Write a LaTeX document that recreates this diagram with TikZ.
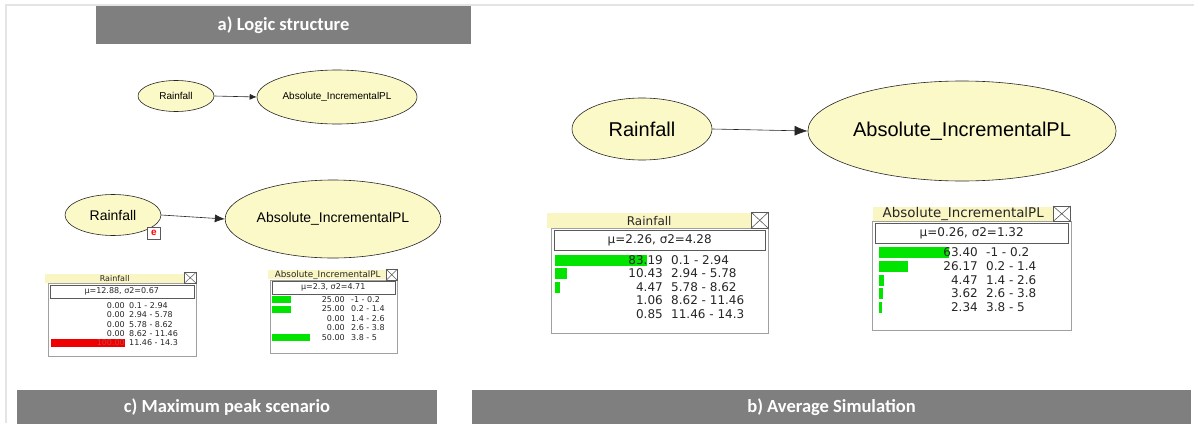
\documentclass[tikz,border=0pt]{standalone}
\usepackage{fontspec}
\usetikzlibrary{shapes.geometric,arrows.meta}
\newfontfamily\capfont{Carlito}
\newfontfamily\arialfont{Liberation Sans}
\newfontfamily\tabfont{DejaVu Sans}
\definecolor{bargray}{RGB}{127,127,127}
\definecolor{framegray}{RGB}{228,228,228}
\definecolor{nodeyellow}{RGB}{252,249,200}
\definecolor{headyellow}{RGB}{250,246,196}
\definecolor{bargreen}{RGB}{0,228,0}
\definecolor{barred}{RGB}{238,0,0}
\definecolor{tabline}{RGB}{160,160,160}
\definecolor{tabdark}{RGB}{90,90,90}
\tikzset{
  titlebar/.style={fill=bargray, draw=none, inner sep=0pt, text=white,
    font=\capfont\bfseries\fontsize{18.5}{20}\selectfont},
  bn/.style={ellipse, draw=black!85, fill=nodeyellow, line width=0.6pt, inner sep=0pt},
  link/.style={line width=0.6pt, black!85},
  hdr/.style={fill=headyellow, draw=none, inner sep=0pt},
  xbox/.style={draw=tabdark, fill=white, line width=0.5pt, inner sep=0pt},
  tbody/.style={draw=tabline, fill=white, line width=1.4pt, inner sep=0pt},
  mubox/.style={draw=tabdark, fill=white, line width=0.5pt, inner sep=0pt},
  bigt/.style={font=\tabfont\fontsize{12}{13}\selectfont, inner sep=0pt, text=black!85},
  smallt/.style={font=\tabfont\fontsize{8}{9}\selectfont, inner sep=0pt, text=black!85},
}
\begin{document}
\begin{tikzpicture}[x=1pt,y=-1pt]
\useasboundingbox (0,0) rectangle (1194,423);
% frame
\draw[framegray, line width=1.6pt] (6,423) -- (6,5) -- (1194,5);
% title bars
\node[titlebar, minimum width=375, minimum height=38] (ta) at (283.5,25) {a) Logic structure};
\node[titlebar, minimum width=420, minimum height=34] (tc) at (227,407) {c) Maximum peak scenario};
\node[titlebar, minimum width=719, minimum height=34] (tb) at (831.5,407) {b) Average Simulation};

% ---------- panel a ----------
\node[bn, minimum width=76, minimum height=31, font=\arialfont\fontsize{10}{12}\selectfont] (ra) at (176,96) {Rainfall};
\node[bn, minimum width=160, minimum height=54, font=\arialfont\fontsize{10}{12}\selectfont] (aa) at (337,97) {Absolute\_IncrementalPL};
\draw[link, -{Latex[length=7pt,width=6pt]}] (ra.east) -- (aa.west);

% ---------- panel c ----------
\node[bn, minimum width=96, minimum height=41, font=\arialfont\fontsize{14}{16}\selectfont] (rc) at (113,215) {Rainfall};
\node[bn, minimum width=203, minimum height=78, font=\arialfont\fontsize{14}{16}\selectfont] (ac) at (333,219) {Absolute\_IncrementalPL};
\draw[link, -{Latex[length=10pt,width=8pt]}] (rc.east) -- (ac.west);
\node[draw=tabdark, fill=white, line width=0.6pt, minimum width=13, minimum height=12, inner sep=0pt,
  text=red, font=\arialfont\bfseries\fontsize{10}{10}\selectfont] (ev) at (154,233) {e};

% small Rainfall table
\node[hdr, minimum width=139, minimum height=9, anchor=north west, smallt] (rch) at (45,273.5) {Rainfall};
\node[tbody, minimum width=148, minimum height=73, anchor=north west] (rcb) at (47.5,283) {};
\node[xbox, minimum width=12, minimum height=11, anchor=north west] (rcx) at (184,272) {};
\draw[tabdark, line width=0.5pt] (rcx.north west) -- (rcx.south east) (rcx.north east) -- (rcx.south west);
\node[mubox, minimum width=144, minimum height=13, anchor=north west, smallt] (rcm) at (49.5,284.5) {μ=12.88, σ2=0.67};
\draw[tabdark, line width=1pt] (rcm.south west) -- (rcm.south east);
\fill[barred] (51,339) rectangle (125,347);
\foreach \i/\n/\r/\y in {1/0.00/0.1 - 2.94/305.5, 2/0.00/2.94 - 5.78/314.8, 3/0.00/5.78 - 8.62/324.1, 4/0.00/8.62 - 11.46/333.4}{
  \node[smallt, anchor=east] (rcn\i) at (125,\y) {\n};
  \node[smallt, anchor=west] (rcr\i) at (129,\y) {\r};
}
\node[smallt, anchor=east, text={rgb,255:red,205;green,60;blue,60}] (rcn5) at (125,342.7) {100.00};
\node[smallt, anchor=west] (rcr5) at (129,342.7) {11.46 - 14.3};

% small Absolute table
\node[hdr, minimum width=119, minimum height=9, anchor=north west, smallt, font=\tabfont\fontsize{8.8}{9}\selectfont] (ach) at (268,270) {Absolute\_IncrementalPL};
\node[tbody, minimum width=127, minimum height=73, anchor=north west] (acb) at (269.5,279.5) {};
\node[xbox, minimum width=11, minimum height=11, anchor=north west] (acx) at (386,269) {};
\draw[tabdark, line width=0.5pt] (acx.north west) -- (acx.south east) (acx.north east) -- (acx.south west);
\node[mubox, minimum width=123, minimum height=13, anchor=north west, smallt] (acm) at (271.5,281) {μ=2.3, σ2=4.71};
\draw[tabdark, line width=1pt] (acm.south west) -- (acm.south east);
\fill[bargreen] (272,296) rectangle ++(19,7);
\fill[bargreen] (272,305.5) rectangle ++(19,7);
\fill[bargreen] (272,334) rectangle ++(38,7);
\foreach \i/\n/\r/\y in {1/25.00/-1 - 0.2/299.5, 2/25.00/0.2 - 1.4/309, 3/0.00/1.4 - 2.6/318.5, 4/0.00/2.6 - 3.8/328, 5/50.00/3.8 - 5/337.5}{
  \node[smallt, anchor=east] (acn\i) at (345,\y) {\n};
  \node[smallt, anchor=west] (acr\i) at (351,\y) {\r};
}

% ---------- panel b ----------
\node[bn, minimum width=140, minimum height=62, font=\arialfont\fontsize{20}{22}\selectfont] (rb) at (642,129) {Rainfall};
\node[bn, minimum width=284, minimum height=100, font=\arialfont\fontsize{20}{22}\selectfont] (ab) at (962,131) {Absolute\_IncrementalPL};
\draw[link, -{Latex[length=13pt,width=10pt]}] (rb.east) -- (ab.west);

% big Rainfall table
\node[hdr, minimum width=204, minimum height=15, anchor=north west, bigt] (rbh) at (547,213) {Rainfall};
\node[tbody, minimum width=217, minimum height=105, anchor=north west] (rbb) at (551,228) {};
\node[xbox, minimum width=17, minimum height=16, anchor=north west] (rbx) at (751,212) {};
\draw[tabdark, line width=0.6pt] (rbx.north west) -- (rbx.south east) (rbx.north east) -- (rbx.south west);
\node[mubox, minimum width=211, minimum height=20, anchor=north west, bigt] (rbm) at (554,230) {μ=2.26, σ2=4.28};
\draw[tabdark, line width=1.2pt] (rbm.south west) -- (rbm.south east);
\fill[bargreen] (555,254.5) rectangle ++(91.5,11);
\fill[bargreen] (555,267.5) rectangle ++(11.5,11);
\fill[bargreen] (555,281.5) rectangle ++(5,11);
\foreach \i/\n/\r/\y in {1/83.19/0.1 - 2.94/260, 2/10.43/2.94 - 5.78/273, 3/4.47/5.78 - 8.62/287, 4/1.06/8.62 - 11.46/300.5, 5/0.85/11.46 - 14.3/314}{
  \node[bigt, anchor=east] (rbn\i) at (663,\y) {\n};
  \node[bigt, anchor=west] (rbr\i) at (671,\y) {\r};
}

% big Absolute table
\node[hdr, minimum width=180, minimum height=14, anchor=north west, bigt, font=\tabfont\fontsize{13.4}{14}\selectfont] (abh) at (873,207) {Absolute\_IncrementalPL};
\node[tbody, minimum width=199, minimum height=109, anchor=north west] (abb) at (872,221) {};
\node[xbox, minimum width=17, minimum height=15, anchor=north west] (abx) at (1053,206) {};
\draw[tabdark, line width=0.6pt] (abx.north west) -- (abx.south east) (abx.north east) -- (abx.south west);
\node[mubox, minimum width=193, minimum height=20, anchor=north west, bigt] (abm) at (875,223) {μ=0.26, σ2=1.32};
\draw[tabdark, line width=1.2pt] (abm.south west) -- (abm.south east);
\fill[bargreen] (879,246.5) rectangle ++(70,11);
\fill[bargreen] (879,260.5) rectangle ++(29,11);
\fill[bargreen] (879,274.5) rectangle ++(5,11);
\fill[bargreen] (879,287.5) rectangle ++(4,11);
\fill[bargreen] (879,301.5) rectangle ++(2.6,11);
\foreach \i/\n/\r/\y in {1/63.40/-1 - 0.2/252, 2/26.17/0.2 - 1.4/266, 3/4.47/1.4 - 2.6/280, 4/3.62/2.6 - 3.8/293, 5/2.34/3.8 - 5/307}{
  \node[bigt, anchor=east] (abn\i) at (978,\y) {\n};
  \node[bigt, anchor=west] (abr\i) at (986,\y) {\r};
}
\end{tikzpicture}
\end{document}
